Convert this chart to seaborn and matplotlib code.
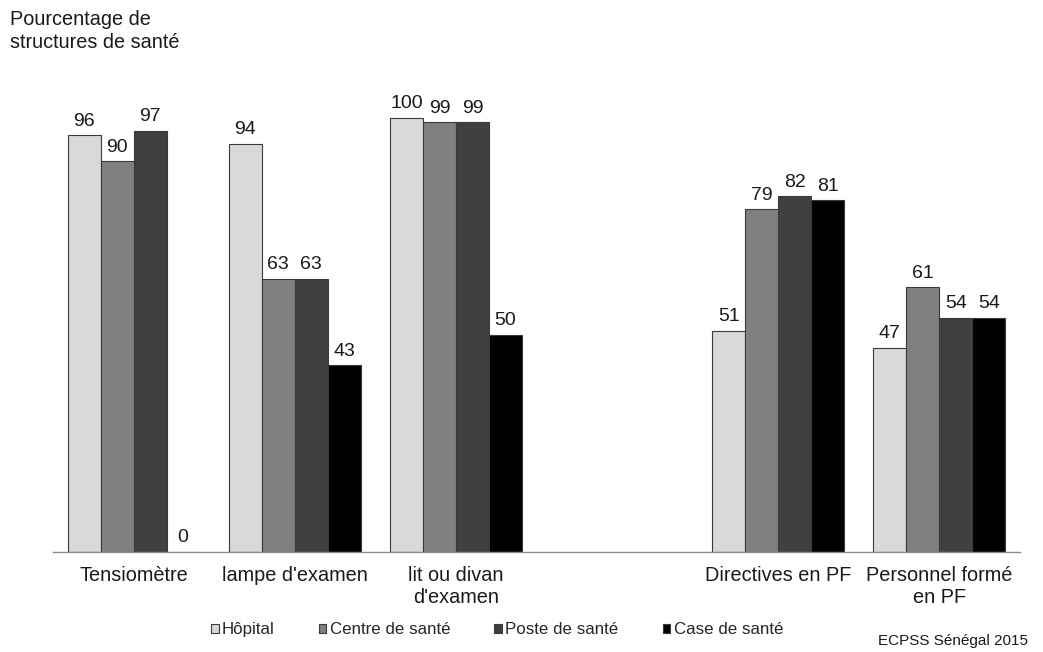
import matplotlib
matplotlib.use("Agg")
import matplotlib.pyplot as plt
import seaborn as sns
import pandas as pd

categories = ["Tensiomètre", "lampe d'examen", "lit ou divan\nd'examen", "",
              "Directives en PF", "Personnel formé\nen PF"]
series = ["Hôpital", "Centre de santé", "Poste de santé", "Case de santé"]
hopital = [96, 94, 100, None, 51, 47]
centre = [90, 63, 99, None, 79, 61]
poste = [97, 63, 99, None, 82, 54]
case = [0, 43, 50, None, 81, 54]
colors = ["#d9d9d9", "#808080", "#404040", "#000000"]

rows = []
for s, vals in zip(series, [hopital, centre, poste, case]):
    for c, v in zip(categories, vals):
        if v is not None:
            rows.append({"cat": c, "serie": s, "val": v})
df = pd.DataFrame(rows)

sns.set_style("white")
plt.rcParams["font.family"] = ["Liberation Sans", "DejaVu Sans"]

fig = plt.figure(figsize=(10.43, 6.52), dpi=100)
ax = fig.add_axes([53 / 1043, 100 / 652, 967 / 1043, 477.4 / 652])

sns.barplot(data=df, x="cat", y="val", hue="serie", order=categories,
            hue_order=series, palette=colors, width=0.82, errorbar=None,
            edgecolor="#3a3a3a", linewidth=0.8, ax=ax, legend=True)

for cont in ax.containers:
    ax.bar_label(cont, fmt="%g", padding=4, fontsize=14, color="#1a1a1a")

ax.set_ylim(0, 110)
ax.set_xlim(-0.5, 5.5)
ax.set_xlabel("")
ax.set_ylabel("")
ax.set_yticks([])
for sp in ["left", "right", "top"]:
    ax.spines[sp].set_visible(False)
ax.spines["bottom"].set_color("#8c8c8c")
ax.spines["bottom"].set_linewidth(1.0)
ax.tick_params(axis="x", length=0, pad=10, labelsize=14.3, colors="#1a1a1a")
for t in ax.get_xticklabels():
    t.set_linespacing(1.2)

handles, labels = ax.get_legend_handles_labels()
ax.get_legend().remove()
fig.legend(handles, labels, loc="center", bbox_to_anchor=(0.4766, 0.034),
           ncol=4, frameon=False, fontsize=12.2, handlelength=0.45,
           handleheight=0.45, handletextpad=0.2, columnspacing=2.6)

fig.text(10 / 1043, 1 - 10 / 652, "Pourcentage de\nstructures de santé",
         ha="left", va="top", fontsize=14.3, color="#1a1a1a", linespacing=1.3)
fig.text(1028 / 1043, 1 - 645 / 652, "ECPSS Sénégal 2015", ha="right",
         va="baseline", fontsize=11, color="#1a1a1a")

fig.savefig("out.png", dpi=100)
